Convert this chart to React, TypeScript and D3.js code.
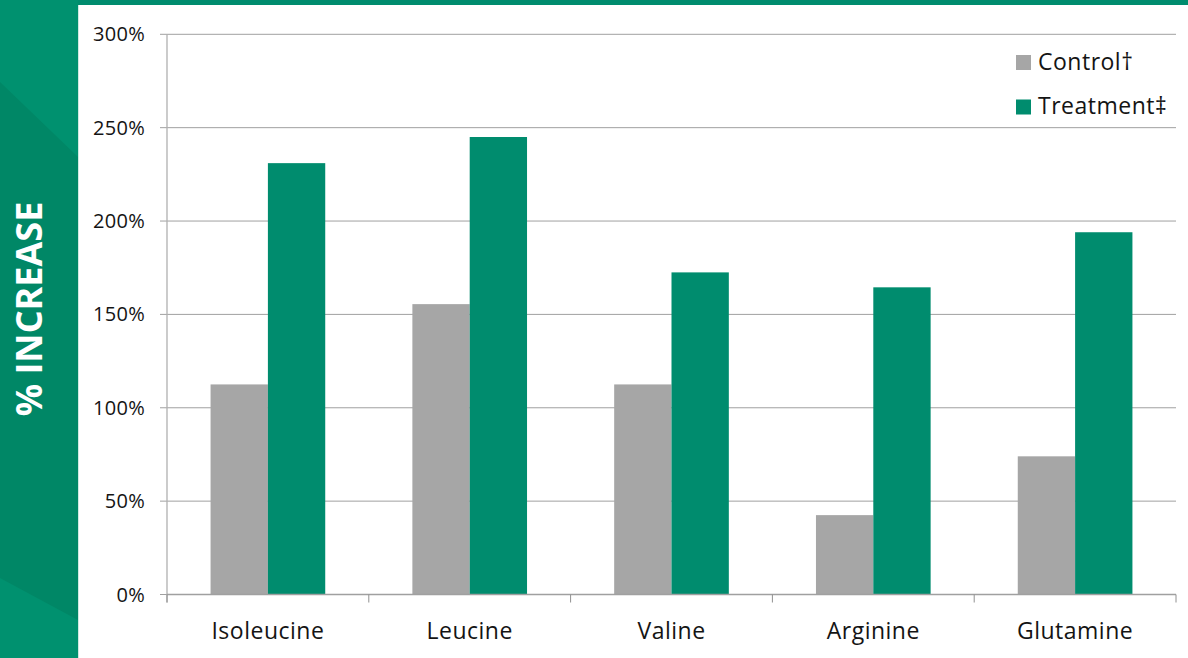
import React from "react";
import * as d3 from "d3";

const categories = ["Isoleucine", "Leucine", "Valine", "Arginine", "Glutamine"];
const seriesNames = ["Control\u2020", "Treatment\u2021"];
const controlValues = [112.5, 155.5, 112.5, 42.5, 74];
const treatmentValues = [231, 245, 172.5, 164.5, 194];
const yTicks = [0, 50, 100, 150, 200, 250, 300];

const W = 1188;
const H = 658;
const GREEN = "#008c6e";
const GREY = "#a6a6a6";
const FONT = "'Open Sans', 'Noto Sans', sans-serif";
const TEXT = "#141414";

export default function App() {
  const left = 167;
  const right = 1176;
  const top = 34.3;
  const bottom = 594.5;

  const x = d3.scaleBand<string>().domain(categories).range([left, right]).padding(0);
  const y = d3.scaleLinear().domain([0, 300]).range([bottom, top]);
  const inner = d3
    .scaleBand<string>()
    .domain(seriesNames)
    .range([0, x.bandwidth()])
    .paddingInner(0)
    .paddingOuter(0.76);

  const series = [
    { name: seriesNames[0], values: controlValues, color: GREY },
    { name: seriesNames[1], values: treatmentValues, color: GREEN },
  ];

  const catTicks = [...categories.map((c) => x(c) as number), right];

  return (
    <svg
      width={W}
      height={H}
      style={{ position: "absolute", left: 0, top: 0, display: "block" }}
      fontFamily={FONT}
    >
      <rect x={0} y={0} width={W} height={H} fill="#ffffff" />
      {/* left band */}
      <rect x={0} y={0} width={78} height={H} fill="#00916f" />
      <polygon points={`0,82 78,157 78,620 0,578`} fill="#008766" />
      <line x1={78.5} y1={0} x2={78.5} y2={H} stroke="#cfe9e1" strokeWidth={1} />
      {/* top band */}
      <rect x={78} y={0} width={W - 78} height={5} fill={GREEN} />
      <text
        transform={`translate(42, 309) rotate(-90)`}
        textAnchor="middle"
        fill="#ffffff"
        fontWeight={700}
        fontSize={36}
      >
        % INCREASE
      </text>

      {/* gridlines */}
      {yTicks.map((t) => (
        <g key={t}>
          <line x1={160} x2={right} y1={y(t)} y2={y(t)} stroke="#a0a0a0" strokeWidth={1} />
          <text
            x={145}
            y={y(t)}
            dy="0.35em"
            textAnchor="end"
            fontSize={20}
            letterSpacing={0.3}
            fill={TEXT}
          >
            {t}%
          </text>
        </g>
      ))}
      {/* y axis line */}
      <line x1={left} x2={left} y1={top} y2={bottom + 8} stroke="#b0b0b0" strokeWidth={1.3} />

      {/* bars */}
      {series.map((s) =>
        categories.map((c, i) => (
          <rect
            key={s.name + c}
            x={(x(c) as number) + (inner(s.name) as number)}
            width={inner.bandwidth()}
            y={y(s.values[i])}
            height={y(0) - y(s.values[i])}
            fill={s.color}
          />
        ))
      )}

      {/* x axis */}
      <line x1={left} x2={right} y1={bottom} y2={bottom} stroke="#a0a0a0" strokeWidth={1.3} />
      {catTicks.map((t, i) => (
        <line key={i} x1={t} x2={t} y1={bottom} y2={bottom + 8} stroke="#909090" strokeWidth={1} />
      ))}
      {categories.map((c) => (
        <text
          key={c}
          x={(x(c) as number) + x.bandwidth() / 2}
          y={639}
          textAnchor="middle"
          fontSize={23}
          letterSpacing={0.5}
          fill={TEXT}
        >
          {c}
        </text>
      ))}

      {/* legend */}
      {series.map((s, i) => (
        <g key={s.name} transform={`translate(1016, ${55 + i * 44.5})`}>
          <rect x={0} y={0} width={15} height={15} fill={s.color} />
          <text x={22} y={14.5} fontSize={23} letterSpacing={0.5} fill={TEXT}>
            {s.name}
          </text>
        </g>
      ))}
    </svg>
  );
}
